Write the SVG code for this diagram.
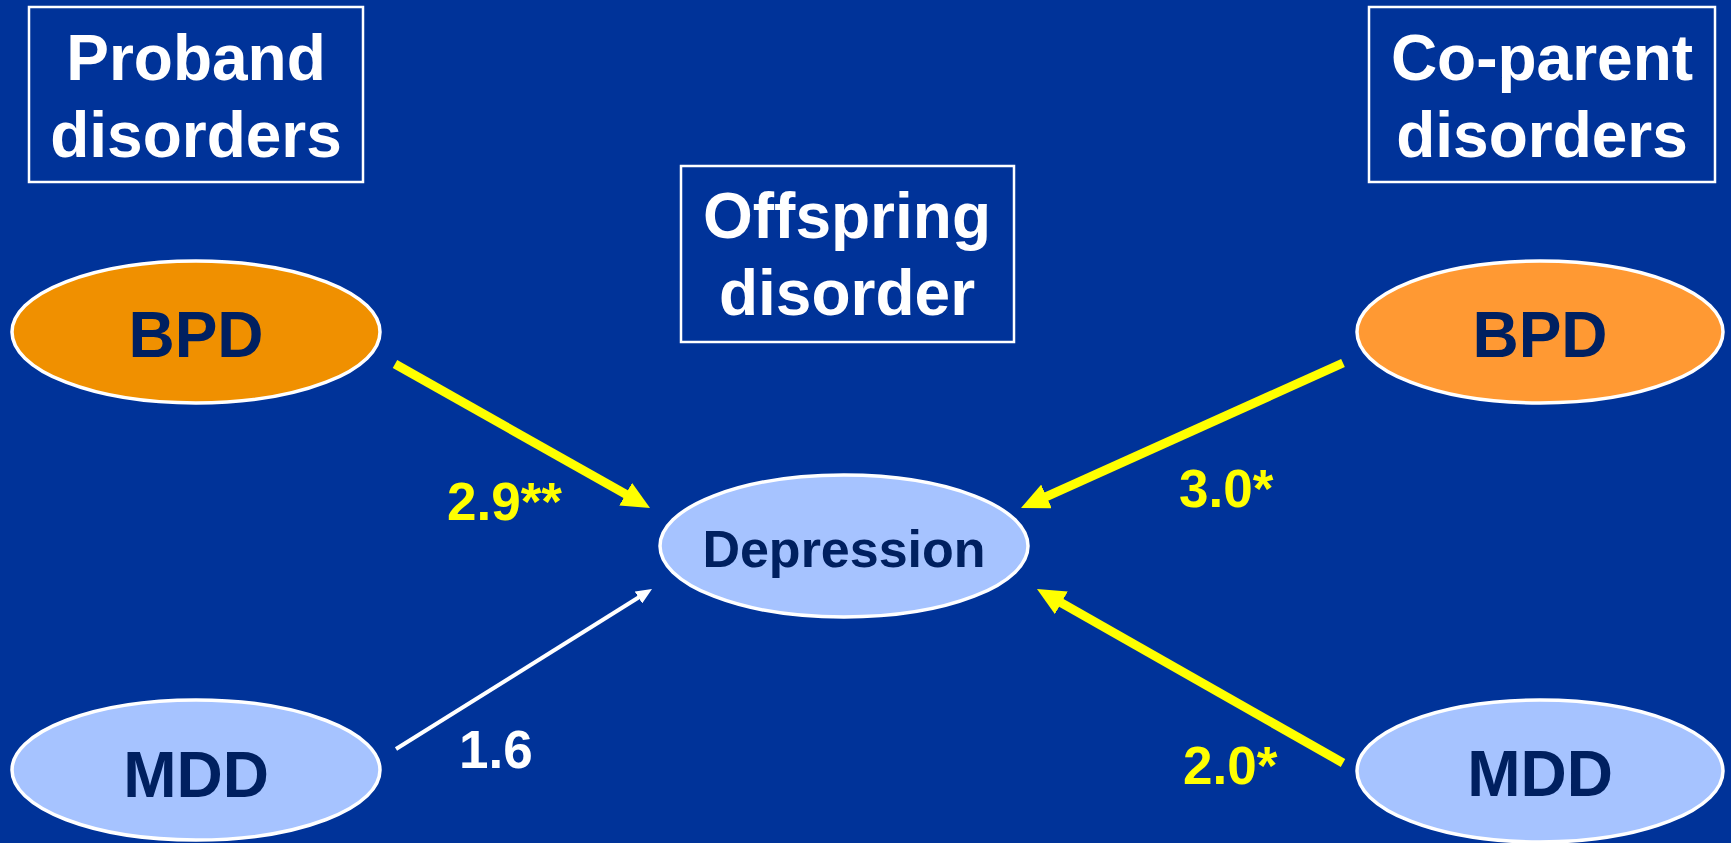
<svg xmlns="http://www.w3.org/2000/svg" width="1731" height="843" viewBox="0 0 1731 843">
<style>
.box{fill:none;stroke:#ffffff;stroke-width:2.5}
.hdr{font-family:"Liberation Sans",Arial,sans-serif;font-weight:bold;font-size:64px;fill:#ffffff;text-anchor:middle}
.node{stroke:#ffffff;stroke-width:3.5}
.lbl{font-family:"Liberation Sans",Arial,sans-serif;font-weight:bold;font-size:64px;fill:#002060;text-anchor:middle}
.val{font-family:"Liberation Sans",Arial,sans-serif;font-weight:bold;font-size:53px;fill:#ffff00}
.yl{stroke:#ffff00;stroke-width:9;fill:none}
.wl{stroke:#ffffff;stroke-width:4;fill:none}
</style>
<defs>
<marker id="ya" markerUnits="userSpaceOnUse" markerWidth="28" markerHeight="26" refX="2" refY="13" orient="auto">
<path d="M0,0 L28,13 L0,26 z" fill="#ffff00"/>
</marker>
<marker id="wa" markerUnits="userSpaceOnUse" markerWidth="16" markerHeight="14" refX="1" refY="7" orient="auto">
<path d="M0,0 L16,7 L0,14 z" fill="#ffffff"/>
</marker>
</defs>
<rect x="0" y="0" width="1731" height="843" fill="#003399"/>

<g id="proband-header">
<rect class="box" x="29" y="7" width="334" height="175"/>
<text class="hdr" x="196" y="80">Proband</text>
<text class="hdr" x="196" y="157">disorders</text>
</g>
<g id="coparent-header">
<rect class="box" x="1369" y="7" width="346" height="175"/>
<text class="hdr" x="1542" y="80">Co-parent</text>
<text class="hdr" x="1542" y="157">disorders</text>
</g>
<g id="offspring-header">
<rect class="box" x="681" y="166" width="333" height="176"/>
<text class="hdr" x="847" y="238">Offspring</text>
<text class="hdr" x="847" y="315">disorder</text>
</g>

<g id="connectors">
<line class="yl" x1="395" y1="364" x2="627.4" y2="495.2" marker-end="url(#ya)"/>
<line class="yl" x1="1343" y1="363" x2="1044.7" y2="497.3" marker-end="url(#ya)"/>
<line class="yl" x1="1343" y1="763" x2="1059.6" y2="601.9" marker-end="url(#ya)"/>
<line class="wl" x1="396" y1="749" x2="639.3" y2="597" marker-end="url(#wa)"/>
<text class="val" x="447" y="520">2.9**</text>
<text class="val" x="1179" y="507">3.0*</text>
<text class="val" x="1183" y="784">2.0*</text>
<text class="val" x="459" y="768" fill="#ffffff" style="fill:#ffffff">1.6</text>
</g>

<g id="proband-bpd">
<ellipse class="node" cx="196" cy="332" rx="184" ry="71" fill="#F09000"/>
<text class="lbl" x="196" y="357">BPD</text>
</g>
<g id="proband-mdd">
<ellipse class="node" cx="196" cy="770" rx="184" ry="70" fill="#A6C3FF"/>
<text class="lbl" x="196" y="797">MDD</text>
</g>
<g id="coparent-bpd">
<ellipse class="node" cx="1540" cy="332" rx="183" ry="71" fill="#FF9933"/>
<text class="lbl" x="1540" y="357">BPD</text>
</g>
<g id="coparent-mdd">
<ellipse class="node" cx="1540" cy="771" rx="183" ry="71" fill="#A6C3FF"/>
<text class="lbl" x="1540" y="796">MDD</text>
</g>
<g id="offspring-depression">
<ellipse class="node" cx="844" cy="546" rx="184" ry="71" fill="#A6C3FF"/>
<text class="lbl" x="844" y="567" style="font-size:52px">Depression</text>
</g>
</svg>
